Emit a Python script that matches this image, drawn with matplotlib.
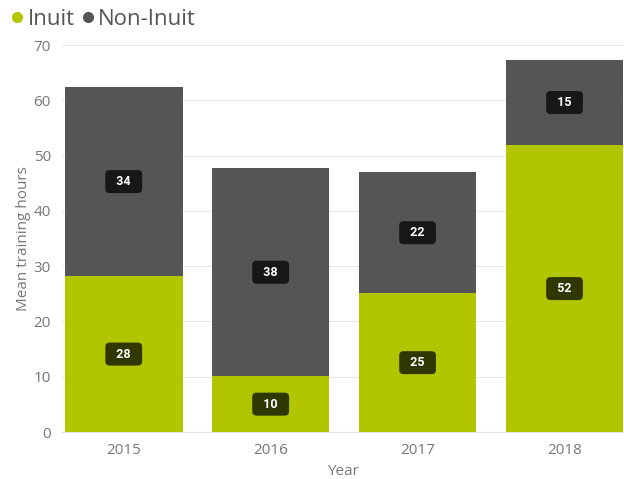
import matplotlib.pyplot as plt
from matplotlib.lines import Line2D

years = ['2015', '2016', '2017', '2018']
inuit = [28.2, 10.1, 25.1, 51.9]
non_inuit = [34.2, 37.6, 21.9, 15.4]

green = '#b2c600'
grey = '#555555'
txt = '#777777'

plt.rcParams['font.family'] = ['Open Sans', 'DejaVu Sans']

fig = plt.figure(figsize=(6.24, 4.79), dpi=100)
ax = fig.add_axes([0.0994, 0.098, 0.9006, 0.808])

x = range(len(years))
ax.bar(x, inuit, width=0.8, color=green, zorder=2)
ax.bar(x, non_inuit, width=0.8, bottom=inuit, color=grey, zorder=2)

def tag(xp, yp, v):
    ax.text(xp, yp, '  %d  ' % round(v), ha='center', va='center', color='white',
            fontsize=9, fontweight='bold', family='Roboto', zorder=4,
            bbox=dict(boxstyle='round,pad=0.4,rounding_size=0.35',
                      fc='black', ec='none', alpha=0.72))

for i in x:
    tag(i, inuit[i] / 2, inuit[i])
    tag(i, inuit[i] + non_inuit[i] / 2, non_inuit[i])

ax.set_xlim(-0.42, 3.405)
ax.set_ylim(0, 70)
ax.set_yticks(range(0, 71, 10))
ax.set_xticks(list(x))
ax.set_xticklabels(years)
ax.grid(axis='y', color='#e8e8e8', linewidth=0.8, zorder=0)
for s in ['top', 'right', 'left']:
    ax.spines[s].set_visible(False)
ax.spines['bottom'].set_color('#e0e0e0')
ax.tick_params(length=0, colors=txt, labelsize=11, pad=8)
ax.set_ylabel('Mean training hours', color=txt, fontsize=11, labelpad=2)
ax.set_xlabel('Year', color=txt, fontsize=11, labelpad=4)

handles = [Line2D([], [], marker='o', ls='', color=green, markersize=7),
           Line2D([], [], marker='o', ls='', color=grey, markersize=7)]
fig.legend(handles, ['Inuit', 'Non-Inuit'], loc='upper left',
           bbox_to_anchor=(-0.022, 1.0), ncol=2, frameon=False,
           fontsize=16, labelcolor='#555555', handletextpad=-0.55,
           columnspacing=-0.4, borderaxespad=0)

fig.savefig('out.png', dpi=100)
